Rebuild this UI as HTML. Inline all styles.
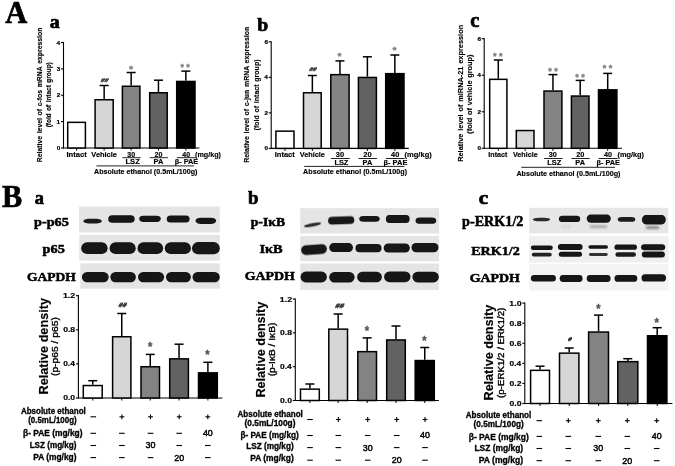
<!DOCTYPE html>
<html><head><meta charset="utf-8"><style>html,body{margin:0;padding:0;background:#fff;overflow:hidden;}svg{display:block;}</style></head>
<body>
<svg width="675" height="466" viewBox="0 0 675 466">
<defs><filter id="bl" x="-20%" y="-60%" width="140%" height="220%"><feGaussianBlur stdDeviation="0.7"/></filter><filter id="bl3" x="-30%" y="-150%" width="160%" height="400%"><feGaussianBlur stdDeviation="1.1"/></filter><filter id="gb" x="0" y="0" width="100%" height="100%" color-interpolation-filters="sRGB"><feGaussianBlur stdDeviation="0.35"/></filter></defs>
<rect width="675" height="466" fill="#fff"/>
<g filter="url(#gb)">
<text transform="translate(5.25,22.85) scale(0.30493,0.32265)" x="0" y="0" font-size="100" font-family="Liberation Serif, Times New Roman, serif" font-weight="bold" stroke="#000" stroke-width="2.17" stroke-linejoin="round">A</text>
<text transform="translate(49.81,28.25) scale(0.19883,0.18967)" x="0" y="0" font-size="100" font-family="Liberation Serif, Times New Roman, serif" font-weight="bold" stroke="#000" stroke-width="3.691" stroke-linejoin="round">a</text>
<text transform="translate(257.20,30.55) scale(0.19685,0.19313)" x="0" y="0" font-size="100" font-family="Liberation Serif, Times New Roman, serif" font-weight="bold" stroke="#000" stroke-width="3.625" stroke-linejoin="round">b</text>
<text transform="translate(470.35,27.35) scale(0.20532,0.19949)" x="0" y="0" font-size="100" font-family="Liberation Serif, Times New Roman, serif" font-weight="bold" stroke="#000" stroke-width="3.509" stroke-linejoin="round">c</text>
<line x1="63.50" y1="41.90" x2="63.50" y2="148.60" stroke="#000" stroke-width="1.1"/>
<line x1="62.90" y1="148.00" x2="199.40" y2="148.00" stroke="#000" stroke-width="1.1"/>
<line x1="61.00" y1="148.00" x2="63.50" y2="148.00" stroke="#000" stroke-width="1.1"/>
<text transform="translate(56.76,150.09) scale(0.6377,0.6073)" x="0" y="0" font-size="10" font-family="Liberation Sans, Arial, sans-serif" font-weight="bold" fill="#000" stroke="#000" stroke-width="0.321" stroke-linejoin="round">0</text>
<line x1="61.00" y1="121.62" x2="63.50" y2="121.62" stroke="#000" stroke-width="1.1"/>
<text transform="translate(56.58,123.78) scale(0.6563,0.6250)" x="0" y="0" font-size="10" font-family="Liberation Sans, Arial, sans-serif" font-weight="bold" fill="#000" stroke="#000" stroke-width="0.312" stroke-linejoin="round">1</text>
<line x1="61.00" y1="95.25" x2="63.50" y2="95.25" stroke="#000" stroke-width="1.1"/>
<text transform="translate(56.71,97.40) scale(0.6466,0.6158)" x="0" y="0" font-size="10" font-family="Liberation Sans, Arial, sans-serif" font-weight="bold" fill="#000" stroke="#000" stroke-width="0.317" stroke-linejoin="round">2</text>
<line x1="61.00" y1="68.88" x2="63.50" y2="68.88" stroke="#000" stroke-width="1.1"/>
<text transform="translate(56.74,70.96) scale(0.6364,0.6061)" x="0" y="0" font-size="10" font-family="Liberation Sans, Arial, sans-serif" font-weight="bold" fill="#000" stroke="#000" stroke-width="0.322" stroke-linejoin="round">3</text>
<line x1="61.00" y1="42.50" x2="63.50" y2="42.50" stroke="#000" stroke-width="1.1"/>
<text transform="translate(56.44,44.65) scale(0.6563,0.6250)" x="0" y="0" font-size="10" font-family="Liberation Sans, Arial, sans-serif" font-weight="bold" fill="#000" stroke="#000" stroke-width="0.312" stroke-linejoin="round">4</text>
<line x1="76.55" y1="148.00" x2="76.55" y2="150.50" stroke="#000" stroke-width="0.9900000000000001"/>
<rect x="67.70" y="122.35" width="17.70" height="25.65" fill="#ffffff" stroke="#000" stroke-width="1.5"/>
<line x1="104.15" y1="148.00" x2="104.15" y2="150.50" stroke="#000" stroke-width="0.9900000000000001"/>
<line x1="104.15" y1="85.50" x2="104.15" y2="99.00" stroke="#000" stroke-width="1.5"/>
<line x1="99.65" y1="85.50" x2="108.65" y2="85.50" stroke="#000" stroke-width="1.5"/>
<rect x="95.10" y="99.75" width="18.10" height="48.25" fill="#d6d6d6" stroke="#000" stroke-width="1.5"/>
<line x1="131.15" y1="148.00" x2="131.15" y2="150.50" stroke="#000" stroke-width="0.9900000000000001"/>
<line x1="131.15" y1="72.50" x2="131.15" y2="85.50" stroke="#000" stroke-width="1.5"/>
<line x1="126.65" y1="72.50" x2="135.65" y2="72.50" stroke="#000" stroke-width="1.5"/>
<rect x="122.40" y="86.25" width="17.50" height="61.75" fill="#838383" stroke="#000" stroke-width="1.5"/>
<line x1="158.45" y1="148.00" x2="158.45" y2="150.50" stroke="#000" stroke-width="0.9900000000000001"/>
<line x1="158.45" y1="80.20" x2="158.45" y2="92.00" stroke="#000" stroke-width="1.5"/>
<line x1="153.95" y1="80.20" x2="162.95" y2="80.20" stroke="#000" stroke-width="1.5"/>
<rect x="149.70" y="92.75" width="17.50" height="55.25" fill="#626262" stroke="#000" stroke-width="1.5"/>
<line x1="185.85" y1="148.00" x2="185.85" y2="150.50" stroke="#000" stroke-width="0.9900000000000001"/>
<line x1="185.85" y1="71.10" x2="185.85" y2="80.70" stroke="#000" stroke-width="1.5"/>
<line x1="181.35" y1="71.10" x2="190.35" y2="71.10" stroke="#000" stroke-width="1.5"/>
<rect x="176.70" y="81.45" width="18.30" height="66.55" fill="#000000" stroke="#000" stroke-width="1.5"/>
<text transform="translate(100.59,81.70) scale(0.6487,0.5285) skewX(-14)" x="0" y="0" font-size="10" font-family="Liberation Sans, Arial, sans-serif" font-weight="bold" fill="#404040" stroke="#404040" stroke-width="0.849" stroke-linejoin="round">##</text>
<text transform="translate(128.97,71.80) scale(1.0642,0.8869)" x="0" y="0" font-size="10" font-family="Liberation Sans, Arial, sans-serif" font-weight="bold" fill="#808080" stroke="#808080" stroke-width="0.359" stroke-linejoin="round">*</text>
<text transform="translate(180.42,70.49) scale(0.8838,0.9138)" x="0" y="0" font-size="10" font-family="Liberation Sans, Arial, sans-serif" font-weight="bold" fill="#808080" stroke="#808080" stroke-width="0.389" stroke-linejoin="round">* *</text>
<text x="66.49" y="156.90" font-size="7.0" textLength="20.20" lengthAdjust="spacingAndGlyphs" font-family="Liberation Sans, Arial, sans-serif" font-weight="bold" fill="#000" stroke="#000" stroke-width="0.15" stroke-linejoin="round" >Intact</text>
<text x="91.35" y="156.90" font-size="7.0" textLength="25.60" lengthAdjust="spacingAndGlyphs" font-family="Liberation Sans, Arial, sans-serif" font-weight="bold" fill="#000" stroke="#000" stroke-width="0.15" stroke-linejoin="round" >Vehicle</text>
<text x="127.34" y="156.90" font-size="7.0" textLength="7.85" lengthAdjust="spacingAndGlyphs" font-family="Liberation Sans, Arial, sans-serif" font-weight="bold" fill="#000" stroke="#000" stroke-width="0.15" stroke-linejoin="round" >30</text>
<text x="154.50" y="156.90" font-size="7.0" textLength="7.94" lengthAdjust="spacingAndGlyphs" font-family="Liberation Sans, Arial, sans-serif" font-weight="bold" fill="#000" stroke="#000" stroke-width="0.15" stroke-linejoin="round" >20</text>
<text x="182.34" y="156.90" font-size="7.0" textLength="7.79" lengthAdjust="spacingAndGlyphs" font-family="Liberation Sans, Arial, sans-serif" font-weight="bold" fill="#000" stroke="#000" stroke-width="0.15" stroke-linejoin="round" >40</text>
<text x="195.04" y="156.90" font-size="7.0" textLength="25.91" lengthAdjust="spacingAndGlyphs" font-family="Liberation Sans, Arial, sans-serif" font-weight="bold" fill="#000" stroke="#000" stroke-width="0.15" stroke-linejoin="round" >(mg/kg)</text>
<text x="125.49" y="164.40" font-size="7.0" textLength="14.33" lengthAdjust="spacingAndGlyphs" font-family="Liberation Sans, Arial, sans-serif" font-weight="bold" fill="#000" stroke="#000" stroke-width="0.15" stroke-linejoin="round" >LSZ</text>
<text x="153.55" y="164.40" font-size="7.0" textLength="9.72" lengthAdjust="spacingAndGlyphs" font-family="Liberation Sans, Arial, sans-serif" font-weight="bold" fill="#000" stroke="#000" stroke-width="0.15" stroke-linejoin="round" >PA</text>
<text x="174.70" y="164.40" font-size="7.0" textLength="23.58" lengthAdjust="spacingAndGlyphs" font-family="Liberation Sans, Arial, sans-serif" font-weight="bold" fill="#000" stroke="#000" stroke-width="0.15" stroke-linejoin="round" >β- PAE</text>
<line x1="122.50" y1="157.70" x2="140.60" y2="157.70" stroke="#222" stroke-width="1.0"/>
<line x1="149.80" y1="157.70" x2="167.90" y2="157.70" stroke="#222" stroke-width="1.0"/>
<line x1="176.80" y1="157.70" x2="195.70" y2="157.70" stroke="#222" stroke-width="1.0"/>
<line x1="96.40" y1="165.90" x2="193.90" y2="165.90" stroke="#222" stroke-width="1.0"/>
<text x="94.02" y="173.50" font-size="7.0" textLength="103.43" lengthAdjust="spacingAndGlyphs" font-family="Liberation Sans, Arial, sans-serif" font-weight="bold" fill="#000" stroke="#000" stroke-width="0.15" stroke-linejoin="round" >Absolute ethanol (0.5mL/100g)</text>
<text transform="translate(42.40,162.27) rotate(-90)" x="0" y="0" font-size="7.8" textLength="134.71" lengthAdjust="spacingAndGlyphs" font-family="Liberation Sans, Arial, sans-serif" font-weight="bold" fill="#000" stroke="#000" stroke-width="0.15" stroke-linejoin="round" word-spacing="0.8">Relative level of c-fos mRNA expression</text>
<text transform="translate(50.50,127.33) rotate(-90)" x="0" y="0" font-size="7.8" textLength="65.06" lengthAdjust="spacingAndGlyphs" font-family="Liberation Sans, Arial, sans-serif" font-weight="bold" fill="#000" stroke="#000" stroke-width="0.15" stroke-linejoin="round" word-spacing="0.8">(fold of intact group)</text>
<line x1="271.20" y1="41.20" x2="271.20" y2="149.00" stroke="#000" stroke-width="1.1"/>
<line x1="270.60" y1="148.40" x2="408.80" y2="148.40" stroke="#000" stroke-width="1.1"/>
<line x1="268.70" y1="148.40" x2="271.20" y2="148.40" stroke="#000" stroke-width="1.1"/>
<text transform="translate(264.46,150.49) scale(0.6377,0.6073)" x="0" y="0" font-size="10" font-family="Liberation Sans, Arial, sans-serif" font-weight="bold" fill="#000" stroke="#000" stroke-width="0.321" stroke-linejoin="round">0</text>
<line x1="268.70" y1="112.87" x2="271.20" y2="112.87" stroke="#000" stroke-width="1.1"/>
<text transform="translate(264.41,115.02) scale(0.6466,0.6158)" x="0" y="0" font-size="10" font-family="Liberation Sans, Arial, sans-serif" font-weight="bold" fill="#000" stroke="#000" stroke-width="0.317" stroke-linejoin="round">2</text>
<line x1="268.70" y1="77.33" x2="271.20" y2="77.33" stroke="#000" stroke-width="1.1"/>
<text transform="translate(264.14,79.48) scale(0.6563,0.6250)" x="0" y="0" font-size="10" font-family="Liberation Sans, Arial, sans-serif" font-weight="bold" fill="#000" stroke="#000" stroke-width="0.312" stroke-linejoin="round">4</text>
<line x1="268.70" y1="41.80" x2="271.20" y2="41.80" stroke="#000" stroke-width="1.1"/>
<text transform="translate(264.43,43.89) scale(0.6377,0.6073)" x="0" y="0" font-size="10" font-family="Liberation Sans, Arial, sans-serif" font-weight="bold" fill="#000" stroke="#000" stroke-width="0.321" stroke-linejoin="round">6</text>
<line x1="284.95" y1="148.40" x2="284.95" y2="150.90" stroke="#000" stroke-width="0.9900000000000001"/>
<rect x="275.90" y="131.15" width="18.10" height="17.25" fill="#ffffff" stroke="#000" stroke-width="1.5"/>
<line x1="312.35" y1="148.40" x2="312.35" y2="150.90" stroke="#000" stroke-width="0.9900000000000001"/>
<line x1="312.35" y1="75.50" x2="312.35" y2="92.00" stroke="#000" stroke-width="1.5"/>
<line x1="307.85" y1="75.50" x2="316.85" y2="75.50" stroke="#000" stroke-width="1.5"/>
<rect x="303.50" y="92.75" width="17.70" height="55.65" fill="#d6d6d6" stroke="#000" stroke-width="1.5"/>
<line x1="339.95" y1="148.40" x2="339.95" y2="150.90" stroke="#000" stroke-width="0.9900000000000001"/>
<line x1="339.95" y1="60.90" x2="339.95" y2="73.90" stroke="#000" stroke-width="1.5"/>
<line x1="335.45" y1="60.90" x2="344.45" y2="60.90" stroke="#000" stroke-width="1.5"/>
<rect x="330.80" y="74.65" width="18.30" height="73.75" fill="#838383" stroke="#000" stroke-width="1.5"/>
<line x1="367.40" y1="148.40" x2="367.40" y2="150.90" stroke="#000" stroke-width="0.9900000000000001"/>
<line x1="367.40" y1="56.80" x2="367.40" y2="76.70" stroke="#000" stroke-width="1.5"/>
<line x1="362.90" y1="56.80" x2="371.90" y2="56.80" stroke="#000" stroke-width="1.5"/>
<rect x="358.40" y="77.45" width="18.00" height="70.95" fill="#626262" stroke="#000" stroke-width="1.5"/>
<line x1="394.85" y1="148.40" x2="394.85" y2="150.90" stroke="#000" stroke-width="0.9900000000000001"/>
<line x1="394.85" y1="55.00" x2="394.85" y2="72.90" stroke="#000" stroke-width="1.5"/>
<line x1="390.35" y1="55.00" x2="399.35" y2="55.00" stroke="#000" stroke-width="1.5"/>
<rect x="385.70" y="73.65" width="18.30" height="74.75" fill="#000000" stroke="#000" stroke-width="1.5"/>
<text transform="translate(308.89,71.10) scale(0.6487,0.5285) skewX(-14)" x="0" y="0" font-size="10" font-family="Liberation Sans, Arial, sans-serif" font-weight="bold" fill="#404040" stroke="#404040" stroke-width="0.849" stroke-linejoin="round">##</text>
<text transform="translate(337.57,58.75) scale(1.0383,0.8869)" x="0" y="0" font-size="10" font-family="Liberation Sans, Arial, sans-serif" font-weight="bold" fill="#808080" stroke="#808080" stroke-width="0.364" stroke-linejoin="round">*</text>
<text transform="translate(392.47,52.95) scale(1.0383,0.8869)" x="0" y="0" font-size="10" font-family="Liberation Sans, Arial, sans-serif" font-weight="bold" fill="#808080" stroke="#808080" stroke-width="0.364" stroke-linejoin="round">*</text>
<text x="274.70" y="157.30" font-size="7.0" textLength="20.10" lengthAdjust="spacingAndGlyphs" font-family="Liberation Sans, Arial, sans-serif" font-weight="bold" fill="#000" stroke="#000" stroke-width="0.15" stroke-linejoin="round" >Intact</text>
<text x="299.75" y="157.30" font-size="7.0" textLength="25.20" lengthAdjust="spacingAndGlyphs" font-family="Liberation Sans, Arial, sans-serif" font-weight="bold" fill="#000" stroke="#000" stroke-width="0.15" stroke-linejoin="round" >Vehicle</text>
<text x="335.83" y="157.30" font-size="7.0" textLength="8.28" lengthAdjust="spacingAndGlyphs" font-family="Liberation Sans, Arial, sans-serif" font-weight="bold" fill="#000" stroke="#000" stroke-width="0.15" stroke-linejoin="round" >30</text>
<text x="363.24" y="157.30" font-size="7.0" textLength="8.37" lengthAdjust="spacingAndGlyphs" font-family="Liberation Sans, Arial, sans-serif" font-weight="bold" fill="#000" stroke="#000" stroke-width="0.15" stroke-linejoin="round" >20</text>
<text x="391.14" y="157.30" font-size="7.0" textLength="8.21" lengthAdjust="spacingAndGlyphs" font-family="Liberation Sans, Arial, sans-serif" font-weight="bold" fill="#000" stroke="#000" stroke-width="0.15" stroke-linejoin="round" >40</text>
<text x="404.52" y="157.30" font-size="7.0" textLength="27.25" lengthAdjust="spacingAndGlyphs" font-family="Liberation Sans, Arial, sans-serif" font-weight="bold" fill="#000" stroke="#000" stroke-width="0.15" stroke-linejoin="round" >(mg/kg)</text>
<text x="334.40" y="164.80" font-size="7.0" textLength="14.01" lengthAdjust="spacingAndGlyphs" font-family="Liberation Sans, Arial, sans-serif" font-weight="bold" fill="#000" stroke="#000" stroke-width="0.15" stroke-linejoin="round" >LSZ</text>
<text x="362.50" y="164.80" font-size="7.0" textLength="9.72" lengthAdjust="spacingAndGlyphs" font-family="Liberation Sans, Arial, sans-serif" font-weight="bold" fill="#000" stroke="#000" stroke-width="0.15" stroke-linejoin="round" >PA</text>
<text x="383.49" y="164.80" font-size="7.0" textLength="23.89" lengthAdjust="spacingAndGlyphs" font-family="Liberation Sans, Arial, sans-serif" font-weight="bold" fill="#000" stroke="#000" stroke-width="0.15" stroke-linejoin="round" >β- PAE</text>
<line x1="330.90" y1="158.50" x2="349.80" y2="158.50" stroke="#222" stroke-width="1.0"/>
<line x1="358.50" y1="158.50" x2="377.10" y2="158.50" stroke="#222" stroke-width="1.0"/>
<line x1="385.80" y1="158.50" x2="404.70" y2="158.50" stroke="#222" stroke-width="1.0"/>
<line x1="304.20" y1="166.40" x2="404.40" y2="166.40" stroke="#222" stroke-width="1.0"/>
<text x="303.12" y="173.80" font-size="7.0" textLength="103.94" lengthAdjust="spacingAndGlyphs" font-family="Liberation Sans, Arial, sans-serif" font-weight="bold" fill="#000" stroke="#000" stroke-width="0.15" stroke-linejoin="round" >Absolute ethanol (0.5mL/100g)</text>
<text transform="translate(249.30,162.78) rotate(-90)" x="0" y="0" font-size="7.8" textLength="136.02" lengthAdjust="spacingAndGlyphs" font-family="Liberation Sans, Arial, sans-serif" font-weight="bold" fill="#000" stroke="#000" stroke-width="0.15" stroke-linejoin="round" word-spacing="0.8">Relative level of c-jun mRNA expression</text>
<text transform="translate(259.00,130.36) rotate(-90)" x="0" y="0" font-size="7.8" textLength="70.92" lengthAdjust="spacingAndGlyphs" font-family="Liberation Sans, Arial, sans-serif" font-weight="bold" fill="#000" stroke="#000" stroke-width="0.15" stroke-linejoin="round" word-spacing="0.8">(fold of intact group)</text>
<line x1="484.20" y1="38.10" x2="484.20" y2="148.90" stroke="#000" stroke-width="1.1"/>
<line x1="483.60" y1="148.30" x2="622.00" y2="148.30" stroke="#000" stroke-width="1.1"/>
<line x1="481.70" y1="148.30" x2="484.20" y2="148.30" stroke="#000" stroke-width="1.1"/>
<text transform="translate(477.46,150.39) scale(0.6377,0.6073)" x="0" y="0" font-size="10" font-family="Liberation Sans, Arial, sans-serif" font-weight="bold" fill="#000" stroke="#000" stroke-width="0.321" stroke-linejoin="round">0</text>
<line x1="481.70" y1="111.77" x2="484.20" y2="111.77" stroke="#000" stroke-width="1.1"/>
<text transform="translate(477.41,113.92) scale(0.6466,0.6158)" x="0" y="0" font-size="10" font-family="Liberation Sans, Arial, sans-serif" font-weight="bold" fill="#000" stroke="#000" stroke-width="0.317" stroke-linejoin="round">2</text>
<line x1="481.70" y1="75.23" x2="484.20" y2="75.23" stroke="#000" stroke-width="1.1"/>
<text transform="translate(477.14,77.38) scale(0.6563,0.6250)" x="0" y="0" font-size="10" font-family="Liberation Sans, Arial, sans-serif" font-weight="bold" fill="#000" stroke="#000" stroke-width="0.312" stroke-linejoin="round">4</text>
<line x1="481.70" y1="38.70" x2="484.20" y2="38.70" stroke="#000" stroke-width="1.1"/>
<text transform="translate(477.43,40.79) scale(0.6377,0.6073)" x="0" y="0" font-size="10" font-family="Liberation Sans, Arial, sans-serif" font-weight="bold" fill="#000" stroke="#000" stroke-width="0.321" stroke-linejoin="round">6</text>
<line x1="498.30" y1="148.30" x2="498.30" y2="150.80" stroke="#000" stroke-width="0.9900000000000001"/>
<line x1="498.30" y1="60.00" x2="498.30" y2="78.60" stroke="#000" stroke-width="1.5"/>
<line x1="493.80" y1="60.00" x2="502.80" y2="60.00" stroke="#000" stroke-width="1.5"/>
<rect x="489.70" y="79.35" width="17.20" height="68.95" fill="#ffffff" stroke="#000" stroke-width="1.5"/>
<line x1="525.15" y1="148.30" x2="525.15" y2="150.80" stroke="#000" stroke-width="0.9900000000000001"/>
<rect x="516.30" y="130.55" width="17.70" height="17.75" fill="#d6d6d6" stroke="#000" stroke-width="1.5"/>
<line x1="552.95" y1="148.30" x2="552.95" y2="150.80" stroke="#000" stroke-width="0.9900000000000001"/>
<line x1="552.95" y1="74.60" x2="552.95" y2="90.30" stroke="#000" stroke-width="1.5"/>
<line x1="548.45" y1="74.60" x2="557.45" y2="74.60" stroke="#000" stroke-width="1.5"/>
<rect x="544.00" y="91.05" width="17.90" height="57.25" fill="#838383" stroke="#000" stroke-width="1.5"/>
<line x1="580.20" y1="148.30" x2="580.20" y2="150.80" stroke="#000" stroke-width="0.9900000000000001"/>
<line x1="580.20" y1="80.40" x2="580.20" y2="95.30" stroke="#000" stroke-width="1.5"/>
<line x1="575.70" y1="80.40" x2="584.70" y2="80.40" stroke="#000" stroke-width="1.5"/>
<rect x="571.40" y="96.05" width="17.60" height="52.25" fill="#626262" stroke="#000" stroke-width="1.5"/>
<line x1="607.70" y1="148.30" x2="607.70" y2="150.80" stroke="#000" stroke-width="0.9900000000000001"/>
<line x1="607.70" y1="73.40" x2="607.70" y2="89.10" stroke="#000" stroke-width="1.5"/>
<line x1="603.20" y1="73.40" x2="612.20" y2="73.40" stroke="#000" stroke-width="1.5"/>
<rect x="598.50" y="89.85" width="18.40" height="58.45" fill="#000000" stroke="#000" stroke-width="1.5"/>
<text transform="translate(492.92,58.99) scale(0.9218,0.9138)" x="0" y="0" font-size="10" font-family="Liberation Sans, Arial, sans-serif" font-weight="bold" fill="#808080" stroke="#808080" stroke-width="0.381" stroke-linejoin="round">* *</text>
<text transform="translate(548.22,73.59) scale(0.9028,0.9138)" x="0" y="0" font-size="10" font-family="Liberation Sans, Arial, sans-serif" font-weight="bold" fill="#808080" stroke="#808080" stroke-width="0.385" stroke-linejoin="round">* *</text>
<text transform="translate(575.22,79.59) scale(0.9028,0.9138)" x="0" y="0" font-size="10" font-family="Liberation Sans, Arial, sans-serif" font-weight="bold" fill="#808080" stroke="#808080" stroke-width="0.385" stroke-linejoin="round">* *</text>
<text transform="translate(602.82,71.19) scale(0.9028,0.9138)" x="0" y="0" font-size="10" font-family="Liberation Sans, Arial, sans-serif" font-weight="bold" fill="#808080" stroke="#808080" stroke-width="0.385" stroke-linejoin="round">* *</text>
<text x="488.32" y="157.10" font-size="7.0" textLength="18.96" lengthAdjust="spacingAndGlyphs" font-family="Liberation Sans, Arial, sans-serif" font-weight="bold" fill="#000" stroke="#000" stroke-width="0.15" stroke-linejoin="round" >Intact</text>
<text x="512.95" y="157.10" font-size="7.0" textLength="24.69" lengthAdjust="spacingAndGlyphs" font-family="Liberation Sans, Arial, sans-serif" font-weight="bold" fill="#000" stroke="#000" stroke-width="0.15" stroke-linejoin="round" >Vehicle</text>
<text x="548.83" y="157.10" font-size="7.0" textLength="8.06" lengthAdjust="spacingAndGlyphs" font-family="Liberation Sans, Arial, sans-serif" font-weight="bold" fill="#000" stroke="#000" stroke-width="0.15" stroke-linejoin="round" >30</text>
<text x="576.15" y="157.10" font-size="7.0" textLength="8.15" lengthAdjust="spacingAndGlyphs" font-family="Liberation Sans, Arial, sans-serif" font-weight="bold" fill="#000" stroke="#000" stroke-width="0.15" stroke-linejoin="round" >20</text>
<text x="604.09" y="157.10" font-size="7.0" textLength="8.00" lengthAdjust="spacingAndGlyphs" font-family="Liberation Sans, Arial, sans-serif" font-weight="bold" fill="#000" stroke="#000" stroke-width="0.15" stroke-linejoin="round" >40</text>
<text x="617.53" y="157.10" font-size="7.0" textLength="26.53" lengthAdjust="spacingAndGlyphs" font-family="Liberation Sans, Arial, sans-serif" font-weight="bold" fill="#000" stroke="#000" stroke-width="0.15" stroke-linejoin="round" >(mg/kg)</text>
<text x="547.30" y="164.60" font-size="7.0" textLength="14.12" lengthAdjust="spacingAndGlyphs" font-family="Liberation Sans, Arial, sans-serif" font-weight="bold" fill="#000" stroke="#000" stroke-width="0.15" stroke-linejoin="round" >LSZ</text>
<text x="575.30" y="164.60" font-size="7.0" textLength="9.72" lengthAdjust="spacingAndGlyphs" font-family="Liberation Sans, Arial, sans-serif" font-weight="bold" fill="#000" stroke="#000" stroke-width="0.15" stroke-linejoin="round" >PA</text>
<text x="596.50" y="164.60" font-size="7.0" textLength="23.48" lengthAdjust="spacingAndGlyphs" font-family="Liberation Sans, Arial, sans-serif" font-weight="bold" fill="#000" stroke="#000" stroke-width="0.15" stroke-linejoin="round" >β- PAE</text>
<line x1="544.10" y1="158.50" x2="562.60" y2="158.50" stroke="#222" stroke-width="1.0"/>
<line x1="571.50" y1="158.50" x2="589.70" y2="158.50" stroke="#222" stroke-width="1.0"/>
<line x1="598.60" y1="158.50" x2="617.60" y2="158.50" stroke="#222" stroke-width="1.0"/>
<line x1="521.30" y1="167.30" x2="615.00" y2="167.30" stroke="#222" stroke-width="1.0"/>
<text x="516.42" y="176.00" font-size="7.0" textLength="104.04" lengthAdjust="spacingAndGlyphs" font-family="Liberation Sans, Arial, sans-serif" font-weight="bold" fill="#000" stroke="#000" stroke-width="0.15" stroke-linejoin="round" >Absolute ethanol (0.5mL/100g)</text>
<text transform="translate(463.00,161.80) rotate(-90)" x="0" y="0" font-size="7.8" textLength="136.97" lengthAdjust="spacingAndGlyphs" font-family="Liberation Sans, Arial, sans-serif" font-weight="bold" fill="#000" stroke="#000" stroke-width="0.15" stroke-linejoin="round" word-spacing="0.8">Relative level of miRNA-21 expression</text>
<text transform="translate(472.20,133.68) rotate(-90)" x="0" y="0" font-size="7.8" textLength="79.15" lengthAdjust="spacingAndGlyphs" font-family="Liberation Sans, Arial, sans-serif" font-weight="bold" fill="#000" stroke="#000" stroke-width="0.15" stroke-linejoin="round" word-spacing="0.8">(fold of vehicle group)</text>
<text transform="translate(2.10,206.55) scale(0.30278,0.31461)" x="0" y="0" font-size="100" font-family="Liberation Serif, Times New Roman, serif" font-weight="bold" stroke="#000" stroke-width="2.225" stroke-linejoin="round">B</text>
<text transform="translate(34.86,204.25) scale(0.18337,0.18967)" x="0" y="0" font-size="100" font-family="Liberation Serif, Times New Roman, serif" font-weight="bold" stroke="#000" stroke-width="3.691" stroke-linejoin="round">a</text>
<text transform="translate(247.91,203.95) scale(0.18889,0.19457)" x="0" y="0" font-size="100" font-family="Liberation Serif, Times New Roman, serif" font-weight="bold" stroke="#000" stroke-width="3.598" stroke-linejoin="round">b</text>
<text transform="translate(478.72,203.85) scale(0.21312,0.19313)" x="0" y="0" font-size="100" font-family="Liberation Serif, Times New Roman, serif" font-weight="bold" stroke="#000" stroke-width="3.625" stroke-linejoin="round">c</text>
<rect x="79.00" y="206.60" width="140.80" height="25.90" fill="#e4e4e4"/>
<rect x="83.30" y="218.80" width="18.60" height="4.60" rx="5.58" ry="2.30" fill="#1c1c1c" filter="url(#bl)"/>
<rect x="108.20" y="215.20" width="26.50" height="7.60" rx="3.97" ry="3.80" fill="#121212" filter="url(#bl)"/>
<rect x="139.20" y="215.70" width="21.60" height="6.20" rx="4.32" ry="3.10" fill="#121212" filter="url(#bl)"/>
<rect x="166.70" y="215.50" width="22.90" height="7.00" rx="3.89" ry="3.50" fill="#121212" filter="url(#bl)"/>
<rect x="195.50" y="217.65" width="20.70" height="6.30" rx="5.17" ry="3.15" fill="#181818" filter="url(#bl)"/>
<rect x="79.30" y="234.80" width="140.50" height="25.80" fill="#e4e4e4"/>
<rect x="81.20" y="242.30" width="26.40" height="11.80" rx="5.90" ry="5.90" fill="#121212" filter="url(#bl)"/>
<rect x="109.60" y="242.30" width="26.10" height="11.80" rx="5.90" ry="5.90" fill="#121212" filter="url(#bl)"/>
<rect x="137.50" y="242.30" width="25.60" height="11.80" rx="5.90" ry="5.90" fill="#121212" filter="url(#bl)"/>
<rect x="164.80" y="242.30" width="26.10" height="11.80" rx="5.90" ry="5.90" fill="#121212" filter="url(#bl)"/>
<rect x="192.00" y="242.10" width="27.80" height="12.20" rx="6.00" ry="6.10" fill="#121212" filter="url(#bl)"/>
<rect x="80.30" y="263.30" width="139.50" height="25.40" fill="#e4e4e4"/>
<rect x="81.90" y="271.95" width="26.80" height="10.30" rx="5.15" ry="5.15" fill="#121212" filter="url(#bl)"/>
<rect x="110.30" y="271.95" width="25.60" height="10.30" rx="5.15" ry="5.15" fill="#121212" filter="url(#bl)"/>
<rect x="138.00" y="271.95" width="26.10" height="10.30" rx="5.15" ry="5.15" fill="#121212" filter="url(#bl)"/>
<rect x="166.00" y="271.95" width="24.90" height="10.30" rx="5.15" ry="5.15" fill="#121212" filter="url(#bl)"/>
<rect x="192.50" y="271.95" width="27.30" height="10.30" rx="5.15" ry="5.15" fill="#121212" filter="url(#bl)"/>
<text x="34.02" y="225.90" font-size="12.99" textLength="34.80" lengthAdjust="spacingAndGlyphs" font-family="Liberation Serif, Times New Roman, serif" font-weight="bold" fill="#000" stroke="#000" stroke-width="0.5" stroke-linejoin="round" >p-p65</text>
<text x="42.62" y="252.90" font-size="13.44" textLength="22.20" lengthAdjust="spacingAndGlyphs" font-family="Liberation Serif, Times New Roman, serif" font-weight="bold" fill="#000" stroke="#000" stroke-width="0.5" stroke-linejoin="round" >p65</text>
<text x="27.04" y="280.80" font-size="13.44" textLength="48.78" lengthAdjust="spacingAndGlyphs" font-family="Liberation Serif, Times New Roman, serif" font-weight="bold" fill="#000" stroke="#000" stroke-width="0.5" stroke-linejoin="round" >GAPDH</text>
<rect x="300.20" y="208.20" width="138.90" height="25.40" fill="#e4e4e4"/>
<rect x="303.80" y="223.20" width="17.60" height="3.20" rx="6.16" ry="1.60" fill="#2a2a2a" filter="url(#bl)" transform="rotate(-10.8 312.60 224.80)"/>
<rect x="328.10" y="216.60" width="26.20" height="7.60" rx="3.93" ry="3.80" fill="#121212" filter="url(#bl)" transform="rotate(-2 341.20 220.40)"/>
<rect x="359.20" y="215.90" width="20.50" height="5.80" rx="4.10" ry="2.90" fill="#121212" filter="url(#bl)"/>
<rect x="385.90" y="215.05" width="23.70" height="7.90" rx="3.56" ry="3.95" fill="#121212" filter="url(#bl)"/>
<rect x="415.50" y="217.55" width="20.70" height="6.30" rx="4.55" ry="3.15" fill="#121212" filter="url(#bl)"/>
<rect x="300.20" y="235.90" width="138.90" height="25.40" fill="#e4e4e4"/>
<rect x="301.10" y="244.80" width="25.80" height="9.60" rx="4.80" ry="4.80" fill="#121212" filter="url(#bl)" transform="rotate(-4 314.00 249.60)"/>
<rect x="329.20" y="243.10" width="23.80" height="9.00" rx="4.50" ry="4.50" fill="#121212" filter="url(#bl)"/>
<rect x="355.50" y="244.10" width="26.00" height="8.20" rx="4.10" ry="4.10" fill="#121212" filter="url(#bl)"/>
<rect x="383.70" y="243.40" width="26.10" height="9.20" rx="4.60" ry="4.60" fill="#121212" filter="url(#bl)"/>
<rect x="411.50" y="242.95" width="27.00" height="9.30" rx="4.65" ry="4.65" fill="#121212" filter="url(#bl)"/>
<rect x="300.20" y="263.50" width="138.90" height="26.40" fill="#e4e4e4"/>
<rect x="300.50" y="271.60" width="26.40" height="10.80" rx="5.40" ry="5.40" fill="#121212" filter="url(#bl)"/>
<rect x="329.20" y="271.90" width="25.40" height="10.60" rx="5.30" ry="5.30" fill="#121212" filter="url(#bl)"/>
<rect x="357.10" y="271.70" width="24.80" height="10.60" rx="5.30" ry="5.30" fill="#121212" filter="url(#bl)"/>
<rect x="384.10" y="271.40" width="26.40" height="10.80" rx="5.40" ry="5.40" fill="#121212" filter="url(#bl)"/>
<rect x="412.40" y="271.80" width="26.40" height="10.60" rx="5.30" ry="5.30" fill="#121212" filter="url(#bl)"/>
<text x="250.73" y="226.10" font-size="12.52" textLength="34.36" lengthAdjust="spacingAndGlyphs" font-family="Liberation Serif, Times New Roman, serif" font-weight="bold" fill="#000" stroke="#000" stroke-width="0.5" stroke-linejoin="round" >p-IκB</text>
<text x="259.52" y="253.40" font-size="13.44" textLength="23.19" lengthAdjust="spacingAndGlyphs" font-family="Liberation Serif, Times New Roman, serif" font-weight="bold" fill="#000" stroke="#000" stroke-width="0.5" stroke-linejoin="round" >IκB</text>
<text x="244.82" y="280.20" font-size="13.29" textLength="50.11" lengthAdjust="spacingAndGlyphs" font-family="Liberation Serif, Times New Roman, serif" font-weight="bold" fill="#000" stroke="#000" stroke-width="0.5" stroke-linejoin="round" >GAPDH</text>
<rect x="529.10" y="207.80" width="139.10" height="25.60" fill="#e6e6e6"/>
<rect x="560.50" y="225.50" width="10.50" height="2.00" rx="1.00" ry="1.00" fill="#d0d0d0" filter="url(#bl3)"/>
<rect x="589.60" y="225.30" width="17.70" height="2.60" rx="1.30" ry="1.30" fill="#a8a8a8" filter="url(#bl3)"/>
<rect x="645.70" y="225.90" width="13.70" height="3.00" rx="1.50" ry="1.50" fill="#8a8a8a" filter="url(#bl3)"/>
<rect x="532.90" y="217.70" width="17.20" height="3.60" rx="6.02" ry="1.80" fill="#2a2a2a" filter="url(#bl)"/>
<rect x="558.90" y="215.75" width="21.30" height="6.30" rx="3.62" ry="3.15" fill="#121212" filter="url(#bl)"/>
<rect x="586.70" y="214.40" width="24.10" height="8.40" rx="4.10" ry="4.20" fill="#121212" filter="url(#bl)"/>
<rect x="617.80" y="217.00" width="17.50" height="4.80" rx="4.38" ry="2.40" fill="#1a1a1a" filter="url(#bl)"/>
<rect x="641.90" y="215.10" width="23.90" height="9.40" rx="4.06" ry="4.70" fill="#121212" filter="url(#bl)"/>
<rect x="529.10" y="235.90" width="139.40" height="26.70" fill="#efefef"/>
<rect x="530.90" y="245.55" width="21.90" height="4.50" rx="2.25" ry="2.25" fill="#121212" filter="url(#bl)"/>
<rect x="531.80" y="252.75" width="19.90" height="3.70" rx="1.85" ry="1.85" fill="#222" filter="url(#bl)"/>
<rect x="557.90" y="244.10" width="24.70" height="6.00" rx="3.00" ry="3.00" fill="#121212" filter="url(#bl)"/>
<rect x="558.80" y="251.70" width="23.20" height="5.00" rx="2.50" ry="2.50" fill="#121212" filter="url(#bl)"/>
<rect x="588.40" y="245.35" width="19.60" height="3.50" rx="1.75" ry="1.75" fill="#121212" filter="url(#bl)"/>
<rect x="589.00" y="253.10" width="18.70" height="2.80" rx="1.40" ry="1.40" fill="#333" filter="url(#bl)"/>
<rect x="614.50" y="244.60" width="22.40" height="5.20" rx="2.60" ry="2.60" fill="#121212" filter="url(#bl)"/>
<rect x="615.40" y="252.30" width="20.60" height="4.40" rx="2.20" ry="2.20" fill="#1c1c1c" filter="url(#bl)"/>
<rect x="641.10" y="244.20" width="24.10" height="6.00" rx="3.00" ry="3.00" fill="#121212" filter="url(#bl)"/>
<rect x="641.80" y="251.40" width="23.10" height="6.00" rx="3.00" ry="3.00" fill="#121212" filter="url(#bl)"/>
<rect x="529.10" y="264.20" width="139.40" height="26.40" fill="#f3f3f3"/>
<rect x="530.90" y="275.05" width="25.00" height="6.50" rx="3.25" ry="3.25" fill="#121212" filter="url(#bl)"/>
<rect x="559.70" y="275.10" width="22.90" height="6.80" rx="3.40" ry="3.40" fill="#121212" filter="url(#bl)"/>
<rect x="586.70" y="275.10" width="23.90" height="6.80" rx="3.40" ry="3.40" fill="#121212" filter="url(#bl)"/>
<rect x="614.50" y="275.00" width="22.80" height="6.80" rx="3.40" ry="3.40" fill="#121212" filter="url(#bl)"/>
<rect x="641.50" y="274.25" width="24.50" height="7.30" rx="3.65" ry="3.65" fill="#121212" filter="url(#bl)"/>
<text x="462.12" y="225.70" font-size="13.74" textLength="61.29" lengthAdjust="spacingAndGlyphs" font-family="Liberation Serif, Times New Roman, serif" font-weight="bold" fill="#000" stroke="#000" stroke-width="0.5" stroke-linejoin="round" >p-ERK1/2</text>
<text x="471.16" y="255.20" font-size="13.44" textLength="48.55" lengthAdjust="spacingAndGlyphs" font-family="Liberation Serif, Times New Roman, serif" font-weight="bold" fill="#000" stroke="#000" stroke-width="0.5" stroke-linejoin="round" >ERK1/2</text>
<text x="469.82" y="281.60" font-size="12.84" textLength="50.11" lengthAdjust="spacingAndGlyphs" font-family="Liberation Serif, Times New Roman, serif" font-weight="bold" fill="#000" stroke="#000" stroke-width="0.5" stroke-linejoin="round" >GAPDH</text>
<line x1="78.40" y1="295.10" x2="78.40" y2="398.60" stroke="#000" stroke-width="1.1"/>
<line x1="77.80" y1="398.00" x2="222.40" y2="398.00" stroke="#000" stroke-width="1.1"/>
<line x1="75.90" y1="398.00" x2="78.40" y2="398.00" stroke="#000" stroke-width="1.1"/>
<text transform="translate(63.16,400.48) scale(0.8629,0.7203)" x="0" y="0" font-size="10" font-family="Liberation Sans, Arial, sans-serif" font-weight="bold" fill="#000" stroke="#000" stroke-width="0.253" stroke-linejoin="round">0.0</text>
<line x1="75.90" y1="363.90" x2="78.40" y2="363.90" stroke="#000" stroke-width="1.1"/>
<text transform="translate(63.17,366.38) scale(0.8400,0.7203)" x="0" y="0" font-size="10" font-family="Liberation Sans, Arial, sans-serif" font-weight="bold" fill="#000" stroke="#000" stroke-width="0.256" stroke-linejoin="round">0.4</text>
<line x1="75.90" y1="329.80" x2="78.40" y2="329.80" stroke="#000" stroke-width="1.1"/>
<text transform="translate(63.16,332.28) scale(0.8562,0.7203)" x="0" y="0" font-size="10" font-family="Liberation Sans, Arial, sans-serif" font-weight="bold" fill="#000" stroke="#000" stroke-width="0.254" stroke-linejoin="round">0.8</text>
<line x1="75.90" y1="295.70" x2="78.40" y2="295.70" stroke="#000" stroke-width="1.1"/>
<text transform="translate(62.95,298.25) scale(0.8779,0.7304)" x="0" y="0" font-size="10" font-family="Liberation Sans, Arial, sans-serif" font-weight="bold" fill="#000" stroke="#000" stroke-width="0.249" stroke-linejoin="round">1.2</text>
<line x1="92.75" y1="398.00" x2="92.75" y2="400.50" stroke="#000" stroke-width="0.9900000000000001"/>
<line x1="92.75" y1="380.70" x2="92.75" y2="384.80" stroke="#000" stroke-width="1.5"/>
<line x1="88.25" y1="380.70" x2="97.25" y2="380.70" stroke="#000" stroke-width="1.5"/>
<rect x="83.30" y="385.55" width="18.90" height="12.45" fill="#ffffff" stroke="#000" stroke-width="1.5"/>
<line x1="121.75" y1="398.00" x2="121.75" y2="400.50" stroke="#000" stroke-width="0.9900000000000001"/>
<line x1="121.75" y1="313.50" x2="121.75" y2="336.00" stroke="#000" stroke-width="1.5"/>
<line x1="117.25" y1="313.50" x2="126.25" y2="313.50" stroke="#000" stroke-width="1.5"/>
<rect x="112.60" y="336.75" width="18.30" height="61.25" fill="#d6d6d6" stroke="#000" stroke-width="1.5"/>
<line x1="150.25" y1="398.00" x2="150.25" y2="400.50" stroke="#000" stroke-width="0.9900000000000001"/>
<line x1="150.25" y1="354.40" x2="150.25" y2="366.00" stroke="#000" stroke-width="1.5"/>
<line x1="145.75" y1="354.40" x2="154.75" y2="354.40" stroke="#000" stroke-width="1.5"/>
<rect x="141.00" y="366.75" width="18.50" height="31.25" fill="#838383" stroke="#000" stroke-width="1.5"/>
<line x1="179.05" y1="398.00" x2="179.05" y2="400.50" stroke="#000" stroke-width="0.9900000000000001"/>
<line x1="179.05" y1="344.20" x2="179.05" y2="358.10" stroke="#000" stroke-width="1.5"/>
<line x1="174.55" y1="344.20" x2="183.55" y2="344.20" stroke="#000" stroke-width="1.5"/>
<rect x="169.70" y="358.85" width="18.70" height="39.15" fill="#626262" stroke="#000" stroke-width="1.5"/>
<line x1="207.90" y1="398.00" x2="207.90" y2="400.50" stroke="#000" stroke-width="0.9900000000000001"/>
<line x1="207.90" y1="362.30" x2="207.90" y2="372.10" stroke="#000" stroke-width="1.5"/>
<line x1="203.40" y1="362.30" x2="212.40" y2="362.30" stroke="#000" stroke-width="1.5"/>
<rect x="198.50" y="372.85" width="18.80" height="25.15" fill="#000000" stroke="#000" stroke-width="1.5"/>
<text transform="translate(118.33,306.75) scale(0.7136,0.6313) skewX(-14)" x="0" y="0" font-size="10" font-family="Liberation Sans, Arial, sans-serif" font-weight="bold" fill="#333" stroke="#333" stroke-width="0.744" stroke-linejoin="round">##</text>
<text transform="translate(148.02,351.37) scale(1.1161,1.2094)" x="0" y="0" font-size="10" font-family="Liberation Sans, Arial, sans-serif" font-weight="bold" fill="#555" stroke="#555" stroke-width="0.301" stroke-linejoin="round">*</text>
<text transform="translate(205.22,358.67) scale(1.1161,1.2094)" x="0" y="0" font-size="10" font-family="Liberation Sans, Arial, sans-serif" font-weight="bold" fill="#555" stroke="#555" stroke-width="0.301" stroke-linejoin="round">*</text>
<text transform="translate(47.90,394.45) rotate(-90)" x="0" y="0" font-size="12" textLength="96.42" lengthAdjust="spacingAndGlyphs" font-family="Liberation Sans, Arial, sans-serif" font-weight="bold" fill="#000" stroke="#000" stroke-width="0.15" stroke-linejoin="round">Relative density</text>
<text transform="translate(58.20,376.04) rotate(-90)" x="0" y="0" font-size="8.5" textLength="58.88" lengthAdjust="spacingAndGlyphs" font-family="Liberation Sans, Arial, sans-serif" fill="#000" stroke="#000" stroke-width="0.35" stroke-linejoin="round">(p-p65 / p65)</text>
<line x1="295.30" y1="298.40" x2="295.30" y2="401.10" stroke="#000" stroke-width="1.1"/>
<line x1="294.70" y1="400.50" x2="438.90" y2="400.50" stroke="#000" stroke-width="1.1"/>
<line x1="292.80" y1="400.50" x2="295.30" y2="400.50" stroke="#000" stroke-width="1.1"/>
<text transform="translate(280.06,402.98) scale(0.8629,0.7203)" x="0" y="0" font-size="10" font-family="Liberation Sans, Arial, sans-serif" font-weight="bold" fill="#000" stroke="#000" stroke-width="0.253" stroke-linejoin="round">0.0</text>
<line x1="292.80" y1="366.67" x2="295.30" y2="366.67" stroke="#000" stroke-width="1.1"/>
<text transform="translate(280.07,369.15) scale(0.8400,0.7203)" x="0" y="0" font-size="10" font-family="Liberation Sans, Arial, sans-serif" font-weight="bold" fill="#000" stroke="#000" stroke-width="0.256" stroke-linejoin="round">0.4</text>
<line x1="292.80" y1="332.83" x2="295.30" y2="332.83" stroke="#000" stroke-width="1.1"/>
<text transform="translate(280.06,335.31) scale(0.8562,0.7203)" x="0" y="0" font-size="10" font-family="Liberation Sans, Arial, sans-serif" font-weight="bold" fill="#000" stroke="#000" stroke-width="0.254" stroke-linejoin="round">0.8</text>
<line x1="292.80" y1="299.00" x2="295.30" y2="299.00" stroke="#000" stroke-width="1.1"/>
<text transform="translate(279.85,301.55) scale(0.8779,0.7304)" x="0" y="0" font-size="10" font-family="Liberation Sans, Arial, sans-serif" font-weight="bold" fill="#000" stroke="#000" stroke-width="0.249" stroke-linejoin="round">1.2</text>
<line x1="309.90" y1="400.50" x2="309.90" y2="403.00" stroke="#000" stroke-width="0.9900000000000001"/>
<line x1="309.90" y1="384.00" x2="309.90" y2="388.40" stroke="#000" stroke-width="1.5"/>
<line x1="305.40" y1="384.00" x2="314.40" y2="384.00" stroke="#000" stroke-width="1.5"/>
<rect x="300.50" y="389.15" width="18.80" height="11.35" fill="#ffffff" stroke="#000" stroke-width="1.5"/>
<line x1="338.15" y1="400.50" x2="338.15" y2="403.00" stroke="#000" stroke-width="0.9900000000000001"/>
<line x1="338.15" y1="314.00" x2="338.15" y2="328.40" stroke="#000" stroke-width="1.5"/>
<line x1="333.65" y1="314.00" x2="342.65" y2="314.00" stroke="#000" stroke-width="1.5"/>
<rect x="328.80" y="329.15" width="18.70" height="71.35" fill="#d6d6d6" stroke="#000" stroke-width="1.5"/>
<line x1="367.15" y1="400.50" x2="367.15" y2="403.00" stroke="#000" stroke-width="0.9900000000000001"/>
<line x1="367.15" y1="337.90" x2="367.15" y2="350.90" stroke="#000" stroke-width="1.5"/>
<line x1="362.65" y1="337.90" x2="371.65" y2="337.90" stroke="#000" stroke-width="1.5"/>
<rect x="357.80" y="351.65" width="18.70" height="48.85" fill="#838383" stroke="#000" stroke-width="1.5"/>
<line x1="396.00" y1="400.50" x2="396.00" y2="403.00" stroke="#000" stroke-width="0.9900000000000001"/>
<line x1="396.00" y1="326.00" x2="396.00" y2="339.20" stroke="#000" stroke-width="1.5"/>
<line x1="391.50" y1="326.00" x2="400.50" y2="326.00" stroke="#000" stroke-width="1.5"/>
<rect x="386.70" y="339.95" width="18.60" height="60.55" fill="#626262" stroke="#000" stroke-width="1.5"/>
<line x1="424.75" y1="400.50" x2="424.75" y2="403.00" stroke="#000" stroke-width="0.9900000000000001"/>
<line x1="424.75" y1="347.50" x2="424.75" y2="359.80" stroke="#000" stroke-width="1.5"/>
<line x1="420.25" y1="347.50" x2="429.25" y2="347.50" stroke="#000" stroke-width="1.5"/>
<rect x="415.20" y="360.55" width="19.10" height="39.95" fill="#000000" stroke="#000" stroke-width="1.5"/>
<text transform="translate(334.97,308.40) scale(0.7599,0.6460) skewX(-14)" x="0" y="0" font-size="10" font-family="Liberation Sans, Arial, sans-serif" font-weight="bold" fill="#333" stroke="#333" stroke-width="0.711" stroke-linejoin="round">##</text>
<text transform="translate(364.82,335.27) scale(1.1161,1.2094)" x="0" y="0" font-size="10" font-family="Liberation Sans, Arial, sans-serif" font-weight="bold" fill="#555" stroke="#555" stroke-width="0.301" stroke-linejoin="round">*</text>
<text transform="translate(422.22,345.07) scale(1.1161,1.2094)" x="0" y="0" font-size="10" font-family="Liberation Sans, Arial, sans-serif" font-weight="bold" fill="#555" stroke="#555" stroke-width="0.301" stroke-linejoin="round">*</text>
<text transform="translate(264.80,397.54) rotate(-90)" x="0" y="0" font-size="12" textLength="95.81" lengthAdjust="spacingAndGlyphs" font-family="Liberation Sans, Arial, sans-serif" font-weight="bold" fill="#000" stroke="#000" stroke-width="0.15" stroke-linejoin="round">Relative density</text>
<text transform="translate(275.20,376.33) rotate(-90)" x="0" y="0" font-size="8.5" textLength="53.66" lengthAdjust="spacingAndGlyphs" font-family="Liberation Sans, Arial, sans-serif" fill="#000" stroke="#000" stroke-width="0.35" stroke-linejoin="round">(p-IκB / IκB)</text>
<line x1="524.80" y1="302.50" x2="524.80" y2="404.10" stroke="#000" stroke-width="1.1"/>
<line x1="524.20" y1="403.50" x2="672.40" y2="403.50" stroke="#000" stroke-width="1.1"/>
<line x1="522.30" y1="403.50" x2="524.80" y2="403.50" stroke="#000" stroke-width="1.1"/>
<text transform="translate(509.56,405.98) scale(0.8629,0.7203)" x="0" y="0" font-size="10" font-family="Liberation Sans, Arial, sans-serif" font-weight="bold" fill="#000" stroke="#000" stroke-width="0.253" stroke-linejoin="round">0.0</text>
<line x1="522.30" y1="383.42" x2="524.80" y2="383.42" stroke="#000" stroke-width="1.1"/>
<text transform="translate(509.56,385.90) scale(0.8622,0.7203)" x="0" y="0" font-size="10" font-family="Liberation Sans, Arial, sans-serif" font-weight="bold" fill="#000" stroke="#000" stroke-width="0.253" stroke-linejoin="round">0.2</text>
<line x1="522.30" y1="363.34" x2="524.80" y2="363.34" stroke="#000" stroke-width="1.1"/>
<text transform="translate(509.57,365.82) scale(0.8400,0.7203)" x="0" y="0" font-size="10" font-family="Liberation Sans, Arial, sans-serif" font-weight="bold" fill="#000" stroke="#000" stroke-width="0.256" stroke-linejoin="round">0.4</text>
<line x1="522.30" y1="343.26" x2="524.80" y2="343.26" stroke="#000" stroke-width="1.1"/>
<text transform="translate(509.56,345.74) scale(0.8597,0.7203)" x="0" y="0" font-size="10" font-family="Liberation Sans, Arial, sans-serif" font-weight="bold" fill="#000" stroke="#000" stroke-width="0.253" stroke-linejoin="round">0.6</text>
<line x1="522.30" y1="323.18" x2="524.80" y2="323.18" stroke="#000" stroke-width="1.1"/>
<text transform="translate(509.56,325.66) scale(0.8562,0.7203)" x="0" y="0" font-size="10" font-family="Liberation Sans, Arial, sans-serif" font-weight="bold" fill="#000" stroke="#000" stroke-width="0.254" stroke-linejoin="round">0.8</text>
<line x1="522.30" y1="303.10" x2="524.80" y2="303.10" stroke="#000" stroke-width="1.1"/>
<text transform="translate(509.35,305.58) scale(0.8786,0.7203)" x="0" y="0" font-size="10" font-family="Liberation Sans, Arial, sans-serif" font-weight="bold" fill="#000" stroke="#000" stroke-width="0.25" stroke-linejoin="round">1.0</text>
<line x1="540.05" y1="403.50" x2="540.05" y2="406.00" stroke="#000" stroke-width="0.9900000000000001"/>
<line x1="540.05" y1="366.20" x2="540.05" y2="369.60" stroke="#000" stroke-width="1.5"/>
<line x1="535.55" y1="366.20" x2="544.55" y2="366.20" stroke="#000" stroke-width="1.5"/>
<rect x="530.60" y="370.35" width="18.90" height="33.15" fill="#ffffff" stroke="#000" stroke-width="1.5"/>
<line x1="569.20" y1="403.50" x2="569.20" y2="406.00" stroke="#000" stroke-width="0.9900000000000001"/>
<line x1="569.20" y1="348.00" x2="569.20" y2="352.40" stroke="#000" stroke-width="1.5"/>
<line x1="564.70" y1="348.00" x2="573.70" y2="348.00" stroke="#000" stroke-width="1.5"/>
<rect x="559.50" y="353.15" width="19.40" height="50.35" fill="#d6d6d6" stroke="#000" stroke-width="1.5"/>
<line x1="598.55" y1="403.50" x2="598.55" y2="406.00" stroke="#000" stroke-width="0.9900000000000001"/>
<line x1="598.55" y1="315.10" x2="598.55" y2="331.30" stroke="#000" stroke-width="1.5"/>
<line x1="594.05" y1="315.10" x2="603.05" y2="315.10" stroke="#000" stroke-width="1.5"/>
<rect x="588.60" y="332.05" width="19.90" height="71.45" fill="#838383" stroke="#000" stroke-width="1.5"/>
<line x1="627.80" y1="403.50" x2="627.80" y2="406.00" stroke="#000" stroke-width="0.9900000000000001"/>
<line x1="627.80" y1="358.70" x2="627.80" y2="360.90" stroke="#000" stroke-width="1.5"/>
<line x1="623.30" y1="358.70" x2="632.30" y2="358.70" stroke="#000" stroke-width="1.5"/>
<rect x="617.80" y="361.65" width="20.00" height="41.85" fill="#626262" stroke="#000" stroke-width="1.5"/>
<line x1="657.20" y1="403.50" x2="657.20" y2="406.00" stroke="#000" stroke-width="0.9900000000000001"/>
<line x1="657.20" y1="327.70" x2="657.20" y2="335.00" stroke="#000" stroke-width="1.5"/>
<line x1="652.70" y1="327.70" x2="661.70" y2="327.70" stroke="#000" stroke-width="1.5"/>
<rect x="647.50" y="335.75" width="19.40" height="67.75" fill="#000000" stroke="#000" stroke-width="1.5"/>
<text transform="translate(567.74,340.80) scale(0.6310,0.5579) skewX(-14)" x="0" y="0" font-size="10" font-family="Liberation Sans, Arial, sans-serif" font-weight="bold" fill="#333" stroke="#333" stroke-width="0.841" stroke-linejoin="round">#</text>
<text transform="translate(596.22,313.47) scale(1.1161,1.2094)" x="0" y="0" font-size="10" font-family="Liberation Sans, Arial, sans-serif" font-weight="bold" fill="#555" stroke="#555" stroke-width="0.301" stroke-linejoin="round">*</text>
<text transform="translate(654.52,326.67) scale(1.1161,1.2094)" x="0" y="0" font-size="10" font-family="Liberation Sans, Arial, sans-serif" font-weight="bold" fill="#555" stroke="#555" stroke-width="0.301" stroke-linejoin="round">*</text>
<text transform="translate(492.60,400.44) rotate(-90)" x="0" y="0" font-size="12" textLength="95.61" lengthAdjust="spacingAndGlyphs" font-family="Liberation Sans, Arial, sans-serif" font-weight="bold" fill="#000" stroke="#000" stroke-width="0.15" stroke-linejoin="round">Relative density</text>
<text transform="translate(504.20,398.00) rotate(-90)" x="0" y="0" font-size="8.5" textLength="90.31" lengthAdjust="spacingAndGlyphs" font-family="Liberation Sans, Arial, sans-serif" fill="#000" stroke="#000" stroke-width="0.35" stroke-linejoin="round">(p-ERK1/2 / ERK1/2)</text>
<text x="20.90" y="414.00" font-size="8.6" textLength="64.87" lengthAdjust="spacingAndGlyphs" font-family="Liberation Sans, Arial, sans-serif" font-weight="bold" fill="#000" stroke="#000" stroke-width="0.32" stroke-linejoin="round" >Absolute ethanol</text>
<text x="28.20" y="423.10" font-size="8.6" textLength="48.49" lengthAdjust="spacingAndGlyphs" font-family="Liberation Sans, Arial, sans-serif" font-weight="bold" fill="#000" stroke="#000" stroke-width="0.32" stroke-linejoin="round" >(0.5mL/100g)</text>
<text x="23.02" y="436.40" font-size="8.6" textLength="59.49" lengthAdjust="spacingAndGlyphs" font-family="Liberation Sans, Arial, sans-serif" font-weight="bold" fill="#000" stroke="#000" stroke-width="0.32" stroke-linejoin="round" >β- PAE (mg/kg)</text>
<text x="29.66" y="448.00" font-size="8.6" textLength="46.85" lengthAdjust="spacingAndGlyphs" font-family="Liberation Sans, Arial, sans-serif" font-weight="bold" fill="#000" stroke="#000" stroke-width="0.32" stroke-linejoin="round" >LSZ (mg/kg)</text>
<text x="33.25" y="459.60" font-size="8.6" textLength="43.26" lengthAdjust="spacingAndGlyphs" font-family="Liberation Sans, Arial, sans-serif" font-weight="bold" fill="#000" stroke="#000" stroke-width="0.32" stroke-linejoin="round" >PA (mg/kg)</text>
<line x1="90.50" y1="416.80" x2="96.10" y2="416.80" stroke="#000" stroke-width="1.1"/>
<line x1="119.50" y1="416.80" x2="124.30" y2="416.80" stroke="#000" stroke-width="1.1"/>
<line x1="121.90" y1="414.40" x2="121.90" y2="419.20" stroke="#000" stroke-width="1.1"/>
<line x1="148.10" y1="416.80" x2="152.90" y2="416.80" stroke="#000" stroke-width="1.1"/>
<line x1="150.50" y1="414.40" x2="150.50" y2="419.20" stroke="#000" stroke-width="1.1"/>
<line x1="176.80" y1="416.80" x2="181.60" y2="416.80" stroke="#000" stroke-width="1.1"/>
<line x1="179.20" y1="414.40" x2="179.20" y2="419.20" stroke="#000" stroke-width="1.1"/>
<line x1="205.40" y1="416.80" x2="210.20" y2="416.80" stroke="#000" stroke-width="1.1"/>
<line x1="207.80" y1="414.40" x2="207.80" y2="419.20" stroke="#000" stroke-width="1.1"/>
<line x1="90.50" y1="433.30" x2="96.10" y2="433.30" stroke="#000" stroke-width="1.1"/>
<line x1="119.10" y1="433.30" x2="124.70" y2="433.30" stroke="#000" stroke-width="1.1"/>
<line x1="147.70" y1="433.30" x2="153.30" y2="433.30" stroke="#000" stroke-width="1.1"/>
<line x1="176.40" y1="433.30" x2="182.00" y2="433.30" stroke="#000" stroke-width="1.1"/>
<text x="202.92" y="436.20" font-size="8.9" textLength="9.90" lengthAdjust="spacingAndGlyphs" font-family="Liberation Sans, Arial, sans-serif" fill="#000" stroke="#000" stroke-width="0.45" stroke-linejoin="round" >40</text>
<line x1="90.50" y1="445.50" x2="96.10" y2="445.50" stroke="#000" stroke-width="1.1"/>
<line x1="119.10" y1="445.50" x2="124.70" y2="445.50" stroke="#000" stroke-width="1.1"/>
<text x="145.55" y="448.40" font-size="8.9" textLength="9.90" lengthAdjust="spacingAndGlyphs" font-family="Liberation Sans, Arial, sans-serif" fill="#000" stroke="#000" stroke-width="0.45" stroke-linejoin="round" >30</text>
<line x1="176.40" y1="445.50" x2="182.00" y2="445.50" stroke="#000" stroke-width="1.1"/>
<line x1="205.00" y1="445.50" x2="210.60" y2="445.50" stroke="#000" stroke-width="1.1"/>
<line x1="90.50" y1="457.60" x2="96.10" y2="457.60" stroke="#000" stroke-width="1.1"/>
<line x1="119.10" y1="457.60" x2="124.70" y2="457.60" stroke="#000" stroke-width="1.1"/>
<line x1="147.70" y1="457.60" x2="153.30" y2="457.60" stroke="#000" stroke-width="1.1"/>
<text x="174.20" y="460.50" font-size="8.9" textLength="9.90" lengthAdjust="spacingAndGlyphs" font-family="Liberation Sans, Arial, sans-serif" fill="#000" stroke="#000" stroke-width="0.45" stroke-linejoin="round" >20</text>
<line x1="205.00" y1="457.60" x2="210.60" y2="457.60" stroke="#000" stroke-width="1.1"/>
<text x="237.50" y="416.70" font-size="8.6" textLength="65.37" lengthAdjust="spacingAndGlyphs" font-family="Liberation Sans, Arial, sans-serif" font-weight="bold" fill="#000" stroke="#000" stroke-width="0.32" stroke-linejoin="round" >Absolute ethanol</text>
<text x="244.59" y="426.00" font-size="8.6" textLength="50.83" lengthAdjust="spacingAndGlyphs" font-family="Liberation Sans, Arial, sans-serif" font-weight="bold" fill="#000" stroke="#000" stroke-width="0.32" stroke-linejoin="round" >(0.5mL/100g)</text>
<text x="240.44" y="437.70" font-size="8.6" textLength="58.27" lengthAdjust="spacingAndGlyphs" font-family="Liberation Sans, Arial, sans-serif" font-weight="bold" fill="#000" stroke="#000" stroke-width="0.32" stroke-linejoin="round" >β- PAE (mg/kg)</text>
<text x="246.15" y="449.30" font-size="8.6" textLength="47.56" lengthAdjust="spacingAndGlyphs" font-family="Liberation Sans, Arial, sans-serif" font-weight="bold" fill="#000" stroke="#000" stroke-width="0.32" stroke-linejoin="round" >LSZ (mg/kg)</text>
<text x="250.15" y="461.00" font-size="8.6" textLength="43.56" lengthAdjust="spacingAndGlyphs" font-family="Liberation Sans, Arial, sans-serif" font-weight="bold" fill="#000" stroke="#000" stroke-width="0.32" stroke-linejoin="round" >PA (mg/kg)</text>
<line x1="307.20" y1="419.50" x2="312.80" y2="419.50" stroke="#000" stroke-width="1.1"/>
<line x1="335.90" y1="419.50" x2="340.70" y2="419.50" stroke="#000" stroke-width="1.1"/>
<line x1="338.30" y1="417.10" x2="338.30" y2="421.90" stroke="#000" stroke-width="1.1"/>
<line x1="365.30" y1="419.50" x2="370.10" y2="419.50" stroke="#000" stroke-width="1.1"/>
<line x1="367.70" y1="417.10" x2="367.70" y2="421.90" stroke="#000" stroke-width="1.1"/>
<line x1="394.30" y1="419.50" x2="399.10" y2="419.50" stroke="#000" stroke-width="1.1"/>
<line x1="396.70" y1="417.10" x2="396.70" y2="421.90" stroke="#000" stroke-width="1.1"/>
<line x1="422.60" y1="419.50" x2="427.40" y2="419.50" stroke="#000" stroke-width="1.1"/>
<line x1="425.00" y1="417.10" x2="425.00" y2="421.90" stroke="#000" stroke-width="1.1"/>
<line x1="307.20" y1="435.50" x2="312.80" y2="435.50" stroke="#000" stroke-width="1.1"/>
<line x1="335.50" y1="435.50" x2="341.10" y2="435.50" stroke="#000" stroke-width="1.1"/>
<line x1="364.90" y1="435.50" x2="370.50" y2="435.50" stroke="#000" stroke-width="1.1"/>
<line x1="393.90" y1="435.50" x2="399.50" y2="435.50" stroke="#000" stroke-width="1.1"/>
<text x="420.12" y="438.40" font-size="8.9" textLength="9.90" lengthAdjust="spacingAndGlyphs" font-family="Liberation Sans, Arial, sans-serif" fill="#000" stroke="#000" stroke-width="0.45" stroke-linejoin="round" >40</text>
<line x1="307.20" y1="447.60" x2="312.80" y2="447.60" stroke="#000" stroke-width="1.1"/>
<line x1="335.50" y1="447.60" x2="341.10" y2="447.60" stroke="#000" stroke-width="1.1"/>
<text x="362.75" y="450.50" font-size="8.9" textLength="9.90" lengthAdjust="spacingAndGlyphs" font-family="Liberation Sans, Arial, sans-serif" fill="#000" stroke="#000" stroke-width="0.45" stroke-linejoin="round" >30</text>
<line x1="393.90" y1="447.60" x2="399.50" y2="447.60" stroke="#000" stroke-width="1.1"/>
<line x1="422.20" y1="447.60" x2="427.80" y2="447.60" stroke="#000" stroke-width="1.1"/>
<line x1="307.20" y1="460.20" x2="312.80" y2="460.20" stroke="#000" stroke-width="1.1"/>
<line x1="335.50" y1="460.20" x2="341.10" y2="460.20" stroke="#000" stroke-width="1.1"/>
<line x1="364.90" y1="460.20" x2="370.50" y2="460.20" stroke="#000" stroke-width="1.1"/>
<text x="391.70" y="463.10" font-size="8.9" textLength="9.90" lengthAdjust="spacingAndGlyphs" font-family="Liberation Sans, Arial, sans-serif" fill="#000" stroke="#000" stroke-width="0.45" stroke-linejoin="round" >20</text>
<line x1="422.20" y1="460.20" x2="427.80" y2="460.20" stroke="#000" stroke-width="1.1"/>
<text x="465.80" y="417.90" font-size="8.6" textLength="65.47" lengthAdjust="spacingAndGlyphs" font-family="Liberation Sans, Arial, sans-serif" font-weight="bold" fill="#000" stroke="#000" stroke-width="0.32" stroke-linejoin="round" >Absolute ethanol</text>
<text x="473.59" y="427.30" font-size="8.6" textLength="50.12" lengthAdjust="spacingAndGlyphs" font-family="Liberation Sans, Arial, sans-serif" font-weight="bold" fill="#000" stroke="#000" stroke-width="0.32" stroke-linejoin="round" >(0.5mL/100g)</text>
<text x="468.72" y="439.50" font-size="8.6" textLength="60.00" lengthAdjust="spacingAndGlyphs" font-family="Liberation Sans, Arial, sans-serif" font-weight="bold" fill="#000" stroke="#000" stroke-width="0.32" stroke-linejoin="round" >β- PAE (mg/kg)</text>
<text x="474.44" y="451.10" font-size="8.6" textLength="48.68" lengthAdjust="spacingAndGlyphs" font-family="Liberation Sans, Arial, sans-serif" font-weight="bold" fill="#000" stroke="#000" stroke-width="0.32" stroke-linejoin="round" >LSZ (mg/kg)</text>
<text x="478.74" y="462.70" font-size="8.6" textLength="44.38" lengthAdjust="spacingAndGlyphs" font-family="Liberation Sans, Arial, sans-serif" font-weight="bold" fill="#000" stroke="#000" stroke-width="0.32" stroke-linejoin="round" >PA (mg/kg)</text>
<line x1="536.50" y1="420.70" x2="542.10" y2="420.70" stroke="#000" stroke-width="1.1"/>
<line x1="565.90" y1="420.70" x2="570.70" y2="420.70" stroke="#000" stroke-width="1.1"/>
<line x1="568.30" y1="418.30" x2="568.30" y2="423.10" stroke="#000" stroke-width="1.1"/>
<line x1="595.90" y1="420.70" x2="600.70" y2="420.70" stroke="#000" stroke-width="1.1"/>
<line x1="598.30" y1="418.30" x2="598.30" y2="423.10" stroke="#000" stroke-width="1.1"/>
<line x1="624.90" y1="420.70" x2="629.70" y2="420.70" stroke="#000" stroke-width="1.1"/>
<line x1="627.30" y1="418.30" x2="627.30" y2="423.10" stroke="#000" stroke-width="1.1"/>
<line x1="654.30" y1="420.70" x2="659.10" y2="420.70" stroke="#000" stroke-width="1.1"/>
<line x1="656.70" y1="418.30" x2="656.70" y2="423.10" stroke="#000" stroke-width="1.1"/>
<line x1="536.50" y1="436.40" x2="542.10" y2="436.40" stroke="#000" stroke-width="1.1"/>
<line x1="565.50" y1="436.40" x2="571.10" y2="436.40" stroke="#000" stroke-width="1.1"/>
<line x1="595.50" y1="436.40" x2="601.10" y2="436.40" stroke="#000" stroke-width="1.1"/>
<line x1="624.50" y1="436.40" x2="630.10" y2="436.40" stroke="#000" stroke-width="1.1"/>
<text x="651.82" y="439.30" font-size="8.9" textLength="9.90" lengthAdjust="spacingAndGlyphs" font-family="Liberation Sans, Arial, sans-serif" fill="#000" stroke="#000" stroke-width="0.45" stroke-linejoin="round" >40</text>
<line x1="536.50" y1="448.50" x2="542.10" y2="448.50" stroke="#000" stroke-width="1.1"/>
<line x1="565.50" y1="448.50" x2="571.10" y2="448.50" stroke="#000" stroke-width="1.1"/>
<text x="593.35" y="451.40" font-size="8.9" textLength="9.90" lengthAdjust="spacingAndGlyphs" font-family="Liberation Sans, Arial, sans-serif" fill="#000" stroke="#000" stroke-width="0.45" stroke-linejoin="round" >30</text>
<line x1="624.50" y1="448.50" x2="630.10" y2="448.50" stroke="#000" stroke-width="1.1"/>
<line x1="653.90" y1="448.50" x2="659.50" y2="448.50" stroke="#000" stroke-width="1.1"/>
<line x1="536.50" y1="460.70" x2="542.10" y2="460.70" stroke="#000" stroke-width="1.1"/>
<line x1="565.50" y1="460.70" x2="571.10" y2="460.70" stroke="#000" stroke-width="1.1"/>
<line x1="595.50" y1="460.70" x2="601.10" y2="460.70" stroke="#000" stroke-width="1.1"/>
<text x="622.30" y="463.60" font-size="8.9" textLength="9.90" lengthAdjust="spacingAndGlyphs" font-family="Liberation Sans, Arial, sans-serif" fill="#000" stroke="#000" stroke-width="0.45" stroke-linejoin="round" >20</text>
<line x1="653.90" y1="460.70" x2="659.50" y2="460.70" stroke="#000" stroke-width="1.1"/>
</g>
</svg>
</body></html>
